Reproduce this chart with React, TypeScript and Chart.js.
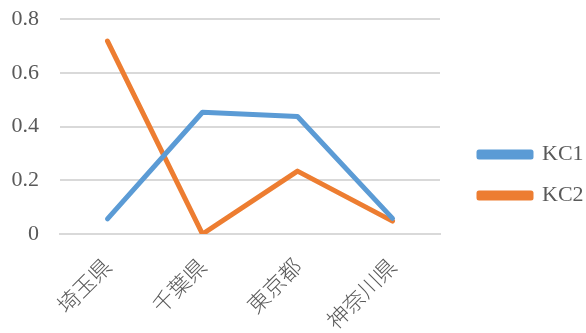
import React, { useEffect, useRef } from "react";
import { Chart, registerables } from "chart.js";

Chart.register(...registerables);

const categories = ["埼玉県", "千葉県", "東京都", "神奈川県"];
const kc1 = [0.056, 0.453, 0.437, 0.058];
const kc2 = [0.718, 0.0, 0.234, 0.048];
const seriesNames = ["KC1", "KC2"];

const W = 586;
const H = 333;
const PLOT_LEFT = 60;
const PLOT_RIGHT = 440;
const PLOT_TOP = 19;
const PLOT_BOTTOM = 234;
const LEGEND_BOX_X = 479;
const LEGEND_SHIFT_Y = -1;
const LEGEND_PAD = 19;

const layoutFix = {
  id: "layoutFix",
  beforeLayout(chart: any) {
    const lg = chart.legend;
    if (lg && !lg.__patched) {
      const orig = lg.fit.bind(lg);
      lg.fit = function () {
        orig();
        this.width = W - PLOT_RIGHT;
      };
      lg.__patched = true;
    }
  },
  afterLayout(chart: any) {
    const lg = chart.legend;
    if (lg) {
      lg.left = LEGEND_BOX_X - LEGEND_PAD;
      lg.right = W;
      lg.top += LEGEND_SHIFT_Y;
      lg.bottom += LEGEND_SHIFT_Y;
    }
  },
};

export default function App() {
  const ref = useRef<HTMLCanvasElement | null>(null);
  useEffect(() => {
    if (!ref.current) return;
    const chart = new Chart(ref.current, {
      type: "line",
      data: {
        labels: categories,
        datasets: [
          {
            label: seriesNames[0],
            data: kc1,
            borderColor: "#5b9bd5",
            backgroundColor: "#5b9bd5",
            borderWidth: 5,
            borderCapStyle: "round",
            borderJoinStyle: "round",
            pointRadius: 0,
            tension: 0,
          },
          {
            label: seriesNames[1],
            data: kc2,
            borderColor: "#ed7d31",
            backgroundColor: "#ed7d31",
            borderWidth: 5,
            borderCapStyle: "round",
            borderJoinStyle: "round",
            pointRadius: 0,
            tension: 0,
          },
        ],
      },
      plugins: [layoutFix],
      options: {
        animation: false,
        responsive: false,
        layout: { padding: { top: PLOT_TOP, right: 0, left: 0, bottom: 0 } },
        plugins: {
          tooltip: { enabled: false },
          legend: {
            position: "right",
            labels: {
              color: "#595959",
              font: { family: "'Liberation Serif', serif", size: 22 },
              boxWidth: 52,
              boxHeight: 5,
              padding: LEGEND_PAD,
            },
          },
        },
        scales: {
          x: {
            offset: true,
            grid: { display: false, drawTicks: false },
            border: { display: true, color: "#d9d9d9", width: 2 },
            afterFit: (s: any) => {
              s.paddingLeft = 0;
              s.paddingRight = 0;
              s.height = H - PLOT_BOTTOM;
            },
            ticks: {
              color: "#595959",
              font: { family: "'Noto Sans CJK JP', sans-serif", size: 22, weight: "300" },
              minRotation: 45,
              maxRotation: 45,
              padding: 19,
            },
          },
          y: {
            min: 0,
            max: 0.8,
            grid: { color: "#d9d9d9", lineWidth: 2, drawTicks: false },
            border: { display: false },
            afterFit: (s: any) => {
              s.width = PLOT_LEFT;
              s.paddingTop = 0;
              s.paddingBottom = 0;
            },
            ticks: {
              stepSize: 0.2,
              color: "#595959",
              font: { family: "'Liberation Serif', serif", size: 22 },
              padding: 21,
            },
          },
        },
      },
    });
    return () => chart.destroy();
  }, []);
  return (
    <div style={{ position: "fixed", left: 0, top: 0, width: W, height: H, background: "#fff" }}>
      <canvas ref={ref} width={W} height={H} />
    </div>
  );
}
